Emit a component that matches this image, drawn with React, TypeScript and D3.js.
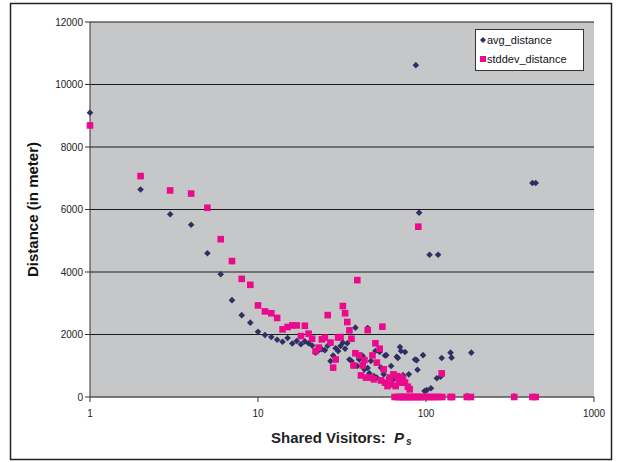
import React from 'react';
import * as d3 from 'd3';

// avg_distance points: [shared visitors, metres]
const avgDistance: [number, number][] = [
  [1, 9100], [2, 6640], [3, 5850], [4, 5510], [5, 4600], [6, 3930], [7, 3100], [8, 2620],
  [9, 2380], [10, 2090], [11, 1985], [12, 1920], [13, 1830], [14, 1770], [15, 1890], [16, 1710],
  [17, 1790], [18, 1690], [19, 1780], [20, 1720], [21, 1650], [22, 1420], [23, 1500], [24, 1530],
  [25, 1500], [26, 1640], [27, 1150], [28, 1330], [29, 1560], [30, 1470], [31, 1630], [32, 1740],
  [33, 1545], [34, 1720], [35, 1200], [36, 1150], [37, 1010], [38, 2220], [39, 990], [40, 1200],
  [42, 1310], [43, 885], [45, 2210], [45, 930], [46, 760], [47, 1150], [49, 670], [50, 1470],
  [51, 620], [53, 1440], [54, 940], [56, 725], [57, 1330], [58, 1340], [60, 620], [62, 990],
  [64, 565], [67, 1290], [68, 1250], [70, 1600], [71, 1470], [73, 700], [75, 1440], [79, 725],
  [86, 1200], [87, 10620], [88, 1180], [89, 870], [91, 5900], [96, 1340], [98, 190], [101, 220],
  [105, 4550], [107, 280], [116, 600], [118, 4550], [122, 650], [124, 1250], [140, 1420],
  [142, 1260], [175, 30], [186, 1420], [335, 20], [430, 6850], [450, 6850],
];

// stddev_distance points
const stddevDistance: [number, number][] = [
  [1, 8690], [2, 7070], [3, 6610], [4, 6510], [5, 6055], [6, 5050], [7, 4350], [8, 3780],
  [9, 3590], [10, 2930], [11, 2740], [12, 2680], [13, 2530], [14, 2165], [15, 2240], [16, 2290],
  [17, 2290], [18, 1950], [19, 2280], [20, 2025], [21, 1865], [22, 1470], [23, 1580], [24, 1845],
  [25, 1900], [26, 2620], [27, 1740], [28, 940], [29, 1200], [30, 1900], [31, 1920], [32, 2910],
  [33, 2680], [34, 2400], [35, 2130], [36, 1865], [37, 1010], [38, 1400], [39, 3740], [40, 1330],
  [41, 690], [42, 1010], [43, 1180], [44, 620], [45, 2140], [47, 620], [48, 1330], [49, 565],
  [50, 1720], [51, 1100], [53, 1545], [54, 530], [55, 2250], [56, 885], [57, 460], [59, 350],
  [61, 620], [62, 405], [64, 725], [66, 350], [67, 670], [69, 460], [71, 640], [73, 565],
  [75, 460], [78, 330], [80, 245], [90, 5450], [124, 755],
  [65, 0], [68, 0], [70, 0], [72, 0], [74, 0], [76, 0], [78, 0], [80, 0], [82, 0], [85, 0],
  [88, 0], [90, 0], [93, 0], [96, 0], [100, 0], [104, 0], [108, 0], [113, 0], [118, 0],
  [125, 0], [140, 0], [143, 0], [175, 0], [185, 0], [335, 0], [430, 0], [450, 0],
];

const xTicks = [1, 10, 100, 1000];
const yTicks = [0, 2000, 4000, 6000, 8000, 10000, 12000];

const W = 620;
const H = 462;
const FONT = 'Arial, "Liberation Sans", sans-serif';

export default function App() {
  const x = d3.scaleLog().domain([1, 1000]).range([90, 594]);
  const y = d3.scaleLinear().domain([0, 12000]).range([397, 22]);
  const [x0, x1] = x.range();
  const [y0, y1] = y.range();

  const diamond = (cx: number, cy: number, r = 3.3) =>
    `M${cx},${cy - r}L${cx + r},${cy}L${cx},${cy + r}L${cx - r},${cy}Z`;
  const sq = 6.6;

  return (
    <div style={{ position: 'absolute', left: 0, top: 0 }}>
      <svg width={W} height={H} style={{ display: 'block', fontFamily: FONT }}>
        <rect x={0} y={0} width={W} height={H} fill="#fff" />
        <rect x={10.5} y={3.5} width={601} height={456} fill="none" stroke="#222" strokeWidth={1.5} />

        {/* plot area */}
        <rect x={x0} y={y1} width={x1 - x0} height={y0 - y1} fill="#c6c7c9" />
        {yTicks.slice(1).map(t => (
          <line key={t} x1={x0} x2={x1} y1={y(t)} y2={y(t)} stroke="#1a1a1a" strokeWidth={1} />
        ))}

        {/* axes */}
        <line x1={x0} x2={x0} y1={y1} y2={y0} stroke="#333" strokeWidth={1} />
        <line x1={x0} x2={x1} y1={y0} y2={y0} stroke="#555" strokeWidth={1.5} />
        {yTicks.map(t => (
          <g key={t}>
            <line x1={x0 - 5} x2={x0} y1={y(t)} y2={y(t)} stroke="#333" />
            <text x={x0 - 7} y={y(t)} dy="0.35em" textAnchor="end" fontSize={10} fill="#222">{t}</text>
          </g>
        ))}
        {xTicks.map(t => (
          <g key={t}>
            <line x1={x(t)} x2={x(t)} y1={y0} y2={y0 + 5} stroke="#333" />
            <text x={x(t)} y={y0 + 20} textAnchor="middle" fontSize={10} fill="#222">{t}</text>
          </g>
        ))}

        {/* markers */}
        {avgDistance.map(([a, b], i) => (
          <path key={'a' + i} d={diamond(x(a), y(b))} fill="#2f2f63" />
        ))}
        {stddevDistance.map(([a, b], i) => (
          <rect key={'s' + i} x={x(a) - sq / 2} y={y(b) - sq / 2} width={sq} height={sq} fill="#ec0a8c" />
        ))}

        {/* titles */}
        <text
          transform={`translate(38,${(y0 + y1) / 2}) rotate(-90)`}
          textAnchor="middle"
          fontSize={15}
          fontWeight="bold"
          fill="#111"
        >
          Distance (in meter)
        </text>
        <text x={271} y={443} fontSize={15} fontWeight="bold" fill="#222">
          Shared Visitors:{' '}
          <tspan dx={4} fontStyle="italic">P</tspan>
          <tspan dx={2} dy={2} fontSize={10} fontStyle="italic">s</tspan>
        </text>

        {/* legend */}
        <rect x={475.5} y={29.5} width={108} height={41} fill="#fff" stroke="#333" strokeWidth={1} />
        <path d={diamond(483, 40, 3)} fill="#2f2f63" />
        <text x={487} y={40} dy="0.35em" fontSize={11} fill="#111">avg_distance</text>
        <rect x={480} y={56} width={6} height={6} fill="#ec0a8c" />
        <text x={487} y={59} dy="0.35em" fontSize={11} fill="#111">stddev_distance</text>
      </svg>
    </div>
  );
}
